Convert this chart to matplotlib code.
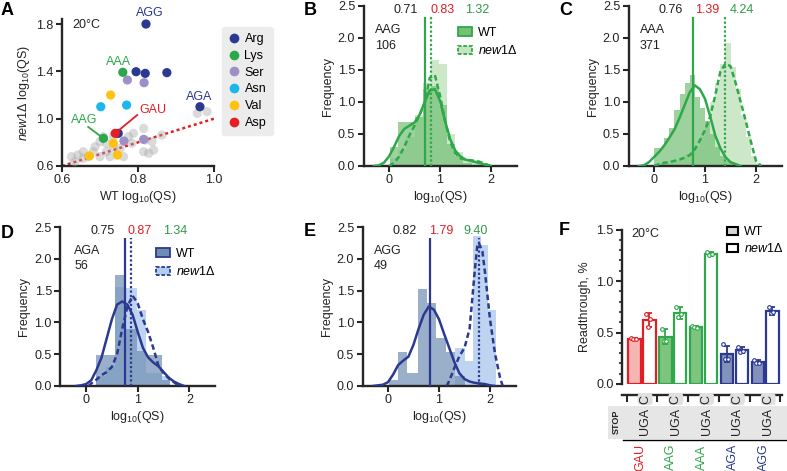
import numpy as np
import matplotlib
matplotlib.use('Agg')
import matplotlib.pyplot as plt
from matplotlib.patches import Patch, Rectangle
from matplotlib.lines import Line2D
import matplotlib.transforms as mtransforms
from matplotlib.ticker import MultipleLocator

plt.rcParams['font.family'] = ['Liberation Sans', 'DejaVu Sans']
plt.rcParams['font.size'] = 9
plt.rcParams['mathtext.fontset'] = 'custom'
plt.rcParams['mathtext.rm'] = 'Liberation Sans'
plt.rcParams['mathtext.it'] = 'Liberation Sans:italic'
plt.rcParams['mathtext.bf'] = 'Liberation Sans:bold'

# ---------------- data ----------------
# Panel A
gray_wt = [0.642, 0.656, 0.669, 0.687, 0.700, 0.709, 0.682, 0.700, 0.717, 0.735, 0.753, 0.775, 0.788, 0.815, 0.819,
           0.841, 0.863, 0.656, 0.634, 0.726, 0.735, 0.784, 0.815, 0.828, 0.956, 0.982, 0.625, 0.762, 0.837, 0.717]
gray_new1 = [0.693, 0.721, 0.679, 0.763, 0.806, 0.848, 0.721, 0.679, 0.721, 0.749, 0.749, 0.848, 0.876, 0.918, 0.820,
             0.735, 0.862, 0.665, 0.637, 0.679, 0.848, 0.792, 0.721, 0.707, 1.045, 1.059, 0.679, 0.679, 0.806, 0.792]
aa_names = ['Arg', 'Lys', 'Ser', 'Asn', 'Val', 'Asp']
aa_wt = [[0.821, 0.795, 0.819, 0.876, 0.963, 0.748],
         [0.760, 0.709],
         [0.772, 0.816, 0.763, 0.815],
         [0.702, 0.770],
         [0.728, 0.672, 0.735, 0.746],
         [0.740]]
aa_new1 = [[1.80, 1.397, 1.383, 1.389, 1.101, 0.876],
           [1.392, 0.834],
           [1.327, 1.304, 0.811, 0.825],
           [1.101, 1.115],
           [1.20, 0.685, 0.792, 0.693],
           [0.876]]
aa_colors = ['#2B3990', '#2BA84A', '#9E8FC7', '#1CB5EC', '#FFC20E', '#E31E25']

# Panels B-E : histograms, density curves, medians
hist_panels = ['AAG', 'AAA', 'AGA', 'AGG']
n_counts = ['106', '371', '56', '49']
medians_wt = [0.71, 0.76, 0.75, 0.82]
medians_new1 = [0.83, 1.39, 0.87, 1.79]
top_vals = [('0.71', '0.83', '1.32'), ('0.76', '1.39', '4.24'), ('0.75', '0.87', '1.34'), ('0.82', '1.79', '9.40')]

wt_edges = [
    [0.02, 0.18, 0.34, 0.50, 0.66, 0.82, 0.98, 1.14, 1.30, 1.46, 1.62, 1.78],
    [0.0, 0.1, 0.2, 0.3, 0.4, 0.5, 0.6, 0.7, 0.8, 0.9, 1.0, 1.1, 1.2, 1.3, 1.4, 1.5, 1.6],
    [0.2, 0.38, 0.56, 0.77, 0.98, 1.15, 1.3, 1.46, 1.63],
    [0.01, 0.19, 0.38, 0.58, 0.77, 0.95, 1.13, 1.31, 1.5],
]
wt_heights = [
    [0.30, 0.69, 0.69, 0.77, 1.21, 1.25, 0.95, 0.35, 0.15, 0.05, 0.0],
    [0.28, 0.28, 0.43, 0.6, 0.87, 1.13, 1.29, 1.42, 1.08, 0.9, 0.7, 0.5, 0.3, 0.15, 0.08, 0.03],
    [0.49, 0.49, 1.75, 0.9, 0.55, 0.49, 0.49, 0.1],
    [0.1, 0.54, 0.2, 1.53, 1.3, 0.75, 0.54, 0.15],
]
new1_edges = [
    [0.02, 0.18, 0.34, 0.50, 0.66, 0.82, 0.98, 1.14, 1.30, 1.46, 1.62, 1.78],
    [0.0, 0.1, 0.2, 0.3, 0.4, 0.5, 0.6, 0.7, 0.8, 0.9, 1.0, 1.1, 1.2, 1.3, 1.4, 1.5, 1.6, 1.7, 1.8, 1.9, 2.0, 2.1],
    [0.2, 0.38, 0.56, 0.77, 0.98, 1.15, 1.3, 1.46, 1.63],
    [1.31, 1.5, 1.67, 1.83, 1.97, 2.12],
]
new1_heights = [
    [0.12, 0.25, 0.45, 0.8, 1.3, 1.66, 1.6, 0.5, 0.22, 0.1, 0.1],
    [0.03, 0.05, 0.05, 0.08, 0.1, 0.12, 0.18, 0.22, 0.3, 0.45, 0.7, 1.0, 1.3, 1.6, 1.92, 1.55, 1.2, 0.8, 0.45, 0.15, 0.05],
    [0.15, 0.3, 1.55, 1.54, 1.2, 0.2, 0.2, 0.15],
    [0.6, 0.4, 2.36, 2.22, 1.2],
]
kde_wt_x = [
    [-0.3, -0.2, -0.1, 0.0, 0.1, 0.2, 0.3, 0.4, 0.5, 0.6, 0.7, 0.8, 0.9, 1.0, 1.1, 1.2, 1.3, 1.4, 1.5, 1.6, 1.7, 1.8, 1.9, 2.0],
    [-0.3, -0.2, -0.1, 0.0, 0.1, 0.2, 0.3, 0.4, 0.5, 0.6, 0.7, 0.8, 0.9, 1.0, 1.1, 1.2, 1.3, 1.4, 1.5, 1.6, 1.7],
    [-0.2, -0.1, 0.0, 0.1, 0.2, 0.3, 0.4, 0.5, 0.6, 0.7, 0.8, 0.9, 1.0, 1.1, 1.2, 1.3, 1.4, 1.5, 1.6, 1.7, 1.8, 1.9],
    [-0.3, -0.2, -0.1, 0.0, 0.1, 0.2, 0.3, 0.4, 0.5, 0.6, 0.7, 0.8, 0.9, 1.0, 1.1, 1.2, 1.3, 1.4, 1.5, 1.6, 1.7, 1.8, 1.9, 2.0, 2.1],
]
kde_wt_y = [
    [0.0, 0.01, 0.05, 0.15, 0.3, 0.47, 0.58, 0.63, 0.68, 0.8, 1.0, 1.18, 1.2, 1.02, 0.7, 0.42, 0.24, 0.15, 0.1, 0.08, 0.06, 0.04, 0.02, 0.0],
    [0.0, 0.01, 0.06, 0.14, 0.22, 0.32, 0.44, 0.57, 0.75, 0.95, 1.15, 1.26, 1.2, 1.05, 0.78, 0.48, 0.28, 0.14, 0.06, 0.03, 0.0],
    [0.0, 0.01, 0.03, 0.09, 0.25, 0.45, 0.75, 1.05, 1.28, 1.33, 1.28, 1.12, 0.85, 0.6, 0.45, 0.37, 0.31, 0.22, 0.13, 0.07, 0.03, 0.0],
    [0.0, 0.01, 0.02, 0.06, 0.18, 0.33, 0.4, 0.46, 0.65, 0.9, 1.12, 1.25, 1.2, 1.05, 0.82, 0.6, 0.38, 0.2, 0.11, 0.07, 0.05, 0.04, 0.03, 0.01, 0.0],
]
kde_new1_x = [
    [0.0, 0.1, 0.2, 0.3, 0.4, 0.5, 0.6, 0.7, 0.8, 0.9, 1.0, 1.1, 1.2, 1.3, 1.4, 1.5, 1.6, 1.7, 1.8, 1.9, 2.0],
    [0.0, 0.1, 0.2, 0.3, 0.4, 0.5, 0.6, 0.7, 0.8, 0.9, 1.0, 1.1, 1.2, 1.3, 1.4, 1.5, 1.6, 1.7, 1.8, 1.9, 2.0, 2.1],
    [0.05, 0.1, 0.2, 0.3, 0.4, 0.5, 0.6, 0.7, 0.8, 0.9, 1.0, 1.1, 1.2, 1.3, 1.4, 1.5, 1.6, 1.7, 1.8],
    [1.15, 1.2, 1.3, 1.4, 1.5, 1.6, 1.7, 1.75, 1.78, 1.85, 1.9, 2.0, 2.1, 2.2, 2.25],
]
kde_new1_y = [
    [0.0, 0.05, 0.15, 0.3, 0.48, 0.63, 0.8, 0.98, 1.38, 1.42, 1.1, 0.7, 0.38, 0.2, 0.12, 0.1, 0.09, 0.08, 0.06, 0.03, 0.0],
    [0.0, 0.03, 0.05, 0.06, 0.08, 0.1, 0.13, 0.17, 0.26, 0.4, 0.56, 0.77, 1.1, 1.47, 1.6, 1.56, 1.3, 1.0, 0.7, 0.38, 0.08, 0.0],
    [0.0, 0.04, 0.1, 0.17, 0.22, 0.3, 0.5, 0.9, 1.25, 1.42, 1.3, 1.05, 0.85, 0.6, 0.32, 0.2, 0.12, 0.06, 0.0],
    [0.0, 0.08, 0.28, 0.47, 0.6, 0.9, 1.8, 2.2, 2.25, 2.12, 1.8, 1.05, 0.5, 0.12, 0.0],
]

# Panel F
codons = ['GAU', 'AAG', 'AAA', 'AGA', 'AGG']
wt_mean = [0.44, 0.46, 0.55, 0.29, 0.21]
wt_err = [0.01, 0.07, 0.01, 0.08, 0.02]
new1_mean = [0.62, 0.69, 1.26, 0.33, 0.71]
new1_err = [0.07, 0.06, 0.02, 0.03, 0.04]
wt_reps = [[0.45, 0.44, 0.44], [0.53, 0.42, 0.42], [0.56, 0.55, 0.54], [0.39, 0.24, 0.24], [0.23, 0.20, 0.20]]
new1_reps = [[0.68, 0.55, 0.63], [0.75, 0.65, 0.68], [1.28, 1.25, 1.26], [0.36, 0.31, 0.32], [0.75, 0.69, 0.70]]

# ---------------- style ----------------
RED = '#E31E25'
GREEN = '#2EA84A'
NAVY = '#2B3990'
TXT = '#222222'
SPINE = '#262626'
codon_colors = [RED, GREEN, GREEN, NAVY, NAVY]
wt_fill = ['#F5B5B3', '#7DC47F', '#7DC47F', '#8392BC', '#8392BC']
panel_line = [GREEN, GREEN, NAVY, NAVY]
panel_wt_fill = ['#74C075', '#74C075', '#6F8DB3', '#6F8DB3']
panel_new1_fill = ['#C5E5C0', '#C5E5C0', '#B3CDEE', '#B3CDEE']

W, H = 787, 471
fig = plt.figure(figsize=(W / 100, H / 100), dpi=100)


def add_ax(l, t, r, b):
    return fig.add_axes([l / W, 1 - b / H, (r - l) / W, (b - t) / H])


def style(ax):
    for s in ['top', 'right']:
        ax.spines[s].set_visible(False)
    for s in ['left', 'bottom']:
        ax.spines[s].set_linewidth(1.7)
        ax.spines[s].set_color(SPINE)
    ax.tick_params(direction='out', length=4, width=1.5, color=SPINE, labelsize=9, pad=2, labelcolor=TXT)


def letter(x, y, s):
    fig.text(x / W, 1 - y / H, s, fontsize=13, fontweight='bold', va='top', ha='left', color='black')


# ---------------- Panel A ----------------
axA = add_ax(62, 19.3, 214, 166)
style(axA)
axA.set_xlim(0.6, 1.0)
axA.set_ylim(0.6, 1.84)
axA.set_xticks([0.6, 0.8, 1.0])
axA.set_yticks([0.6, 1.0, 1.4, 1.8])
axA.plot([0.6, 1.0], [0.6, 1.0], linestyle=(0, (1.2, 1.2)), color=RED, lw=1.8, zorder=2)
axA.scatter(gray_wt, gray_new1, s=44, color='#A8A8A8', alpha=0.42, edgecolors='none', zorder=3, clip_on=False)
order = [0, 2, 3, 4, 1, 5]
handles = []
for i in order:
    axA.scatter(aa_wt[i], aa_new1[i], s=44, color=aa_colors[i], edgecolors='none', zorder=4, clip_on=False)
for i in range(6):
    handles.append(Line2D([], [], marker='o', linestyle='none', markersize=7, markerfacecolor=aa_colors[i],
                          markeredgecolor='none', label=aa_names[i]))
axA.text(0.626, 1.79, '20°C', fontsize=9, color=TXT, va='center', ha='left')
axA.text(0.830, 1.893, 'AGG', color=NAVY, fontsize=9, ha='center', va='center')
axA.text(0.748, 1.479, 'AAA', color=GREEN, fontsize=9, ha='center', va='center')
axA.text(0.962, 1.183, 'AGA', color=NAVY, fontsize=9, ha='center', va='center')
axA.text(0.838, 1.073, 'GAU', color=RED, fontsize=9, ha='center', va='center')
axA.text(0.658, 0.989, 'AAG', color=GREEN, fontsize=9, ha='center', va='center')
axA.plot([0.798, 0.745], [1.031, 0.89], color=RED, lw=1.3, zorder=5)
axA.plot([0.669, 0.709], [0.93, 0.834], color=GREEN, lw=1.3, zorder=5)
axA.set_xlabel('WT log$_{10}$(QS)', fontsize=9, color=TXT, labelpad=2)
axA.set_ylabel('$\\mathit{new1Δ}$ log$_{10}$(QS)', fontsize=9, color=TXT, labelpad=3)
legA = fig.legend(handles=handles, loc='upper left', bbox_to_anchor=(222 / W, 1 - 27 / H), frameon=True,
                  fontsize=9, handletextpad=0.3, labelspacing=0.38, borderpad=0.5, handlelength=1.0,
                  borderaxespad=0, fancybox=True)
legA.get_frame().set_facecolor('#ECECEC')
legA.get_frame().set_edgecolor('#ECECEC')
legA.get_frame().set_alpha(1)
letter(1, 2, 'A')

# ---------------- Panels B-E ----------------
hist_rects = [(363.5, 6, 516.5, 166), (628.5, 6, 781.5, 166), (60.2, 227, 215.3, 386), (362.5, 227, 515.5, 386)]
letters = [('B', 304, 2), ('C', 559, 2), ('D', 1, 225), ('E', 304, 223)]
for k in range(4):
    ax = add_ax(*hist_rects[k])
    style(ax)
    ax.set_xlim(-0.5, 2.5)
    ax.set_ylim(0, 2.5)
    ax.set_xticks([0, 1, 2])
    ax.set_yticks([0, 0.5, 1.0, 1.5, 2.0, 2.5])
    ax.set_yticklabels(['0.0', '0.5', '1.0', '1.5', '2.0', '2.5'])
    ne = np.array(new1_edges[k])
    we = np.array(wt_edges[k])
    ax.bar(ne[:-1], new1_heights[k], width=np.diff(ne), align='edge', color=panel_new1_fill[k], alpha=0.85,
           edgecolor='none', zorder=1)
    ax.bar(we[:-1], wt_heights[k], width=np.diff(we), align='edge', color=panel_wt_fill[k], alpha=0.7,
           edgecolor='none', zorder=2)
    c = panel_line[k]
    ax.plot(kde_wt_x[k], kde_wt_y[k], color=c, lw=1.8, zorder=4, solid_capstyle='round')
    ax.plot(kde_new1_x[k], kde_new1_y[k], color=c, lw=1.8, linestyle=(0, (2.2, 1.3)), zorder=4)
    ax.vlines(medians_wt[k], 0, 2.33, color=c, lw=1.6, zorder=5)
    ax.vlines(medians_new1[k], 0, 2.33, color=c, lw=1.6, linestyles=[(0, (1, 1))], zorder=5)
    a, b, r = top_vals[k]
    ax.text(0.275, 0.975, a, transform=ax.transAxes, color=TXT, fontsize=9, ha='center', va='center')
    ax.text(0.515, 0.975, b, transform=ax.transAxes, color=RED, fontsize=9, ha='center', va='center')
    ax.text(0.74, 0.975, r, transform=ax.transAxes, color='#2E9A48', fontsize=9, ha='center', va='center')
    ax.text(0.075 if k != 2 else 0.09, 0.80, hist_panels[k] + '\n' + n_counts[k], transform=ax.transAxes,
            color=TXT, fontsize=9, ha='left', va='center', linespacing=1.35)
    ax.set_xlabel('log$_{10}$(QS)', fontsize=9, color=TXT, labelpad=2)
    ax.set_ylabel('Frequency', fontsize=9, color=TXT, labelpad=3)
    if k in (0, 2):
        hh = [Patch(facecolor=panel_wt_fill[k], edgecolor=c, lw=1.3, label='WT'),
              Patch(facecolor=panel_new1_fill[k], edgecolor=c, lw=1.3, linestyle=(0, (2, 1)), label='$\\mathit{new1Δ}$')]
        ax.legend(handles=hh, loc='upper left', bbox_to_anchor=(0.62, 0.87), frameon=False, fontsize=9,
                  handlelength=1.1, handleheight=0.7, handletextpad=0.5, labelspacing=0.45, borderpad=0,
                  borderaxespad=0)
    letter(letters[k][1], letters[k][2], letters[k][0])

# ---------------- Panel F ----------------
axF = add_ax(622, 229.5, 782, 384)
style(axF)
axF.spines['bottom'].set_position(('outward', 8))
axF.set_xlim(-0.65, 4.55)
axF.set_ylim(0, 1.5)
axF.yaxis.set_minor_locator(MultipleLocator(0.1))
axF.set_yticks([0, 0.5, 1.0, 1.5])
axF.set_yticklabels(['0.0', '0.5', '1.0', '1.5'])
axF.tick_params(axis='y', which='minor', length=2.5, width=1.2, color=SPINE)
axF.set_xticks(np.arange(-0.5, 5.0, 1.0))
axF.set_xticklabels([])
axF.tick_params(axis='x', length=5, width=1.5)
axF.set_ylabel('Readthrough, %', fontsize=9, color=TXT, labelpad=4)
xs = np.arange(len(codons))
off = 0.24
bw = 0.40
jit = [-0.12, -0.06, 0.03]
for i in range(len(codons)):
    c = codon_colors[i]
    axF.bar(xs[i] - off, wt_mean[i], width=bw, color=wt_fill[i], edgecolor=c, lw=1.6, zorder=2)
    axF.bar(xs[i] + off, new1_mean[i], width=bw, color='white', edgecolor=c, lw=1.6, zorder=2)
    axF.errorbar(xs[i] - off, wt_mean[i], yerr=wt_err[i], color=c, capsize=2.5, lw=1.3, capthick=1.3, zorder=3)
    axF.errorbar(xs[i] + off, new1_mean[i], yerr=new1_err[i], color=c, capsize=2.5, lw=1.3, capthick=1.3, zorder=3)
    axF.scatter([xs[i] - off + j for j in jit], wt_reps[i], s=7, facecolors='white', edgecolors=c, lw=0.8, zorder=4)
    axF.scatter([xs[i] + off + j for j in jit], new1_reps[i], s=7, facecolors='white', edgecolors=c, lw=0.8, zorder=4)
axF.text(0.06, 0.97, '20°C', transform=axF.transAxes, fontsize=9, color=TXT, ha='left', va='center')
hF = [Patch(facecolor='#D5D5D5', edgecolor='black', lw=1.5, label='WT'),
      Patch(facecolor='white', edgecolor='black', lw=1.5, label='$\\mathit{new1Δ}$')]
axF.legend(handles=hF, loc='upper left', bbox_to_anchor=(0.655, 1.02), frameon=False, fontsize=9,
           handlelength=0.9, handleheight=0.6, handletextpad=0.5, labelspacing=0.3, borderpad=0, borderaxespad=0)

# table beneath panel F
trF = mtransforms.blended_transform_factory(axF.transData, fig.transFigure)
fig.patches.append(Rectangle((608 / W, 1 - 439 / H), (787 - 608) / W, 33 / H, transform=fig.transFigure,
                             facecolor='#E6E6E6', edgecolor='none', zorder=0))
fig.lines.append(Line2D([623 / W, 787 / W], [1 - 440 / H, 1 - 440 / H], transform=fig.transFigure,
                        color='black', lw=1.0))
fig.text(616 / W, 1 - 422 / H, 'STOP', rotation=90, fontsize=6.5, fontweight='bold', ha='center', va='center',
         color=TXT)
for i in range(len(codons)):
    fig.text(xs[i] + 0.1, 1 - 421 / H, 'UGA', transform=trF, rotation=90, fontsize=9, ha='center', va='center',
             color=TXT)
    fig.text(xs[i] + 0.1, 1 - 399 / H, 'C', transform=trF, rotation=90, fontsize=9, ha='center', va='center',
             color=TXT, bbox=dict(boxstyle='round,pad=0.12,rounding_size=0.3', facecolor='#E0E0E0', edgecolor='none'))
    fig.text(xs[i] - 0.05, 1 - 457 / H, codons[i], transform=trF, rotation=90, fontsize=9, ha='center',
             va='center', color=codon_colors[i])
letter(559, 222, 'F')

fig.savefig('out.png', dpi=100)
